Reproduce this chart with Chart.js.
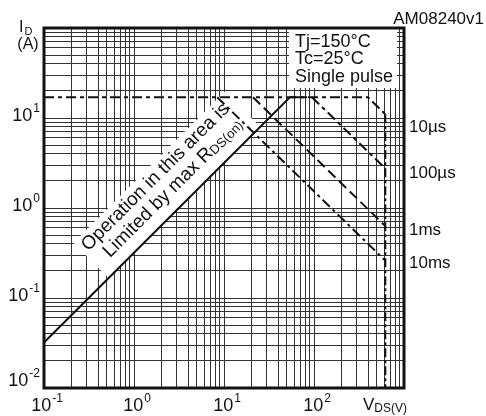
<!DOCTYPE html>
<html>
<head>
<meta charset="utf-8">
<script src="https://cdn.jsdelivr.net/npm/chart.js@4.4.1/dist/chart.umd.min.js"></script>
<style>
  html, body { margin: 0; padding: 0; background: #fff; }
  canvas { display: block; }
</style>
</head>
<body>
<canvas id="soa" width="486" height="416"></canvas>
<script>
(function () {
  "use strict";

  // Axes: labelled decades and grid steps inside each decade
  const xDecades   = [0.1, 1, 10, 100];
  const xExponents = ['-1', '0', '1', '2'];
  const yDecades   = [0.01, 0.1, 1, 10];
  const yExponents = ['-2', '-1', '0', '1'];
  const gridSteps  = [1, 2, 3, 4, 5, 6, 7, 8, 9];

  // Limited by max RDS(on) (solid)
  const rdsV = [0.1, 54, 84];
  const rdsI = [0.032, 17, 17];

  // Single pulse curves, VDS (V) / ID (A)
  const us10V  = [0.1, 398, 620];
  const us10I  = [17, 17, 11];
  const us100V = [95, 620];
  const us100I = [17, 2.75];
  const ms1V   = [21, 620];
  const ms1I   = [17, 0.63];
  const ms10V  = [8.4, 620];
  const ms10I  = [17, 0.26];

  // VDSS limit
  const vdssV = [620, 620];
  const vdssI = [11, 0.01];

  // Curve names at the right edge and the ID where they sit
  const curveNames  = ['10µs', '100µs', '1ms', '10ms'];
  const curveNameI  = [7.9, 2.45, 0.57, 0.245];

  const conditions = ['Tj=150°C', 'Tc=25°C', 'Single pulse'];

  const FONT = '"Liberation Sans", Arial, Helvetica, sans-serif';
  const ink = '#111';

  function pts(xs, ys) {
    return xs.map(function (v, i) { return { x: v, y: ys[i] }; });
  }

  function gridOf(decades) {
    const out = [];
    decades.forEach(function (d) {
      gridSteps.forEach(function (s) { out.push({ value: d * s }); });
    });
    out.push({ value: decades[decades.length - 1] * 10 });
    return out;
  }

  function curve(label, data, dash, width) {
    return {
      label: label,
      data: data,
      showLine: true,
      borderColor: ink,
      backgroundColor: ink,
      borderWidth: width || 2,
      borderDash: dash,
      pointRadius: 0,
      fill: false
    };
  }

  // "10" with a raised exponent
  function drawPow(ctx, x, y, exp, align) {
    ctx.font = '18px ' + FONT;
    const wb = ctx.measureText('10').width;
    ctx.font = '12px ' + FONT;
    const we = ctx.measureText(exp).width;
    const total = wb + we + 1;
    let start = x;
    if (align === 'center') start = x - total / 2;
    if (align === 'right') start = x - total;
    ctx.textAlign = 'left';
    ctx.textBaseline = 'middle';
    ctx.font = '18px ' + FONT;
    ctx.fillText('10', start, y);
    ctx.font = '12px ' + FONT;
    ctx.fillText(exp, start + wb + 1, y - 7);
  }

  const decor = {
    id: 'soaDecor',
    beforeDatasetsDraw: function (chart) {
      const ctx = chart.ctx;
      const a = chart.chartArea;
      const xs = chart.scales.x, ys = chart.scales.y;
      ctx.save();

      // conditions box
      ctx.fillStyle = '#fff';
      ctx.fillRect(289, a.top, 108, 60);
      ctx.fillStyle = ink;
      ctx.font = '18px ' + FONT;
      ctx.textAlign = 'left';
      ctx.textBaseline = 'middle';
      conditions.forEach(function (t, i) {
        ctx.fillText(t, 295, 42 + i * 17.5);
      });

      // rotated note along the RDS(on) line
      const ax = xs.getPixelForValue(3.64);
      const ay = ys.getPixelForValue(3.64 / 3.16);
      ctx.translate(ax, ay);
      ctx.rotate(-Math.PI / 4);
      ctx.fillStyle = '#fff';
      ctx.fillRect(-107, -50, 214, 49);
      ctx.fillStyle = ink;
      ctx.textBaseline = 'middle';
      ctx.font = '19px ' + FONT;
      ctx.textAlign = 'center';
      ctx.fillText('Operation in this area is', -2.5, -38.5);

      ctx.textAlign = 'left';
      const main = 'Limited by max R';
      const sub = 'DS(on)';
      ctx.font = '19px ' + FONT;
      const wm = ctx.measureText(main).width;
      ctx.font = '13px ' + FONT;
      const ws = ctx.measureText(sub).width;
      const s0 = 2 - (wm + ws) / 2;
      ctx.font = '19px ' + FONT;
      ctx.fillText(main, s0, -18.5);
      ctx.font = '13px ' + FONT;
      ctx.fillText(sub, s0 + wm, -15.5);

      ctx.restore();
    },
    afterDraw: function (chart) {
      const ctx = chart.ctx;
      const a = chart.chartArea;
      const xs = chart.scales.x, ys = chart.scales.y;
      ctx.save();

      // frame
      ctx.strokeStyle = ink;
      ctx.lineWidth = 3;
      ctx.strokeRect(a.left, a.top, a.right - a.left, a.bottom - a.top);

      ctx.fillStyle = ink;
      // x tick labels
      xDecades.forEach(function (v, i) {
        drawPow(ctx, xs.getPixelForValue(v) + 3, 406, xExponents[i], 'center');
      });
      // y tick labels
      yDecades.forEach(function (v, i) {
        const py = Math.min(ys.getPixelForValue(v) - 2, a.bottom - 7);
        drawPow(ctx, 40, py, yExponents[i], 'right');
      });

      // axis titles
      ctx.textAlign = 'left';
      ctx.textBaseline = 'middle';
      ctx.font = '17px ' + FONT;
      ctx.fillText('V', 363, 405);
      const wv = ctx.measureText('V').width;
      ctx.font = '12px ' + FONT;
      ctx.fillText('DS(V)', 363 + wv, 409);

      ctx.font = '16px ' + FONT;
      ctx.fillText('I', 19, 28);
      const wi = ctx.measureText('I').width;
      ctx.font = '11px ' + FONT;
      ctx.fillText('D', 20 + wi, 32);
      ctx.font = '16px ' + FONT;
      ctx.textAlign = 'center';
      ctx.fillText('(A)', 28, 45);

      // curve names
      ctx.textAlign = 'left';
      ctx.font = '17px ' + FONT;
      curveNames.forEach(function (t, i) {
        ctx.fillText(t, a.right + 5, ys.getPixelForValue(curveNameI[i]));
      });

      // figure code
      ctx.textAlign = 'right';
      ctx.font = '17px ' + FONT;
      ctx.fillText('AM08240v1', 484, 19);

      ctx.restore();
    }
  };

  const soaChart = function () {
    const el = document.getElementById('soa');
    if (el == null) return;
    const ctx = el.getContext('2d');

    new Chart(ctx, {
      type: 'scatter',
      data: {
        datasets: [
          curve('10us', pts(us10V, us10I), [10, 4, 4, 4]),
          curve('100us', pts(us100V, us100I), [10, 4, 4, 4]),
          curve('1ms', pts(ms1V, ms1I), [10, 5]),
          curve('10ms', pts(ms10V, ms10I), [10, 4, 3, 4]),
          curve('VDSS', pts(vdssV, vdssI), [9, 3, 3, 3]),
          curve('RDS(on)', pts(rdsV, rdsI), [], 2)
        ]
      },
      options: {
        responsive: false,
        animation: false,
        events: [],
        layout: {
          padding: { left: 44, right: 82, top: 28, bottom: 28 }
        },
        plugins: {
          legend: { display: false },
          tooltip: { enabled: false }
        },
        scales: {
          x: {
            type: 'logarithmic',
            min: 0.1,
            max: 1000,
            afterBuildTicks: function (scale) { scale.ticks = gridOf(xDecades); },
            ticks: { display: false },
            grid: { color: '#333', lineWidth: 1, drawTicks: false },
            border: { display: false }
          },
          y: {
            type: 'logarithmic',
            min: 0.01,
            max: 100,
            afterBuildTicks: function (scale) { scale.ticks = gridOf(yDecades); },
            ticks: { display: false },
            grid: { color: '#333', lineWidth: 1, drawTicks: false },
            border: { display: false }
          }
        }
      },
      plugins: [decor]
    });
  };

  soaChart();

})();
</script>
</body>
</html>
